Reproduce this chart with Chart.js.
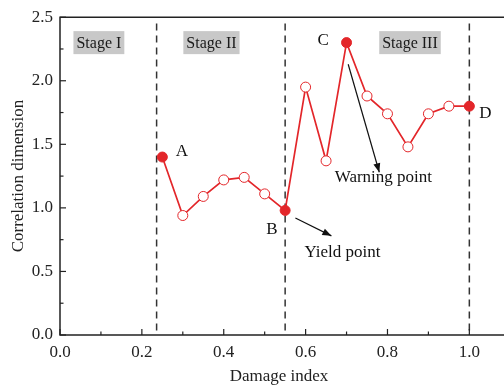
<!DOCTYPE html>
<html>
<head>
<meta charset="utf-8">
<script src="https://cdn.jsdelivr.net/npm/chart.js@4"></script>
<style>
    html, body { margin: 0; padding: 0; background: #fff; overflow: hidden; }
    #wrap { width: 504px; height: 391px; position: relative; }
</style>
</head>
<body>
<div id="wrap"><canvas id="chart"></canvas></div>
<script>
// damage index vs correlation dimension
var damageIndex = [0.25, 0.30, 0.35, 0.40, 0.45, 0.50, 0.55, 0.60, 0.65, 0.70, 0.75, 0.80, 0.85, 0.90, 0.95, 1.00];
var corrDim = [1.40, 0.94, 1.09, 1.22, 1.24, 1.11, 0.98, 1.95, 1.37, 2.30, 1.88, 1.74, 1.48, 1.74, 1.80, 1.80];
var keyPoints = [0, 6, 9, 15]; // A, B, C, D
var xTicks = [0.0, 0.2, 0.4, 0.6, 0.8, 1.0];
var yTicks = [0.0, 0.5, 1.0, 1.5, 2.0, 2.5];
var stageBounds = [0.236, 0.55, 1.0];
var stageNames = ["Stage I", "Stage II", "Stage III"];
var stageCenters = [0.095, 0.37, 0.855];
var pointLabels = ["A", "B", "C", "D"];
var pointLabelPos = [[0.298, 1.445], [0.518, 0.83], [0.643, 2.32], [1.039, 1.74]];
var notes = ["Warning point", "Yield point"];
var notePos = [[0.79, 1.24], [0.69, 0.65]];
var arrows = [[0.704, 2.13, 0.78, 1.28], [0.575, 0.92, 0.663, 0.78]];

var RED = "#e3262a";
var SERIF = "'Liberation Serif', 'DejaVu Serif', serif";

var pts = damageIndex.map(function(x, i) { return {x: x, y: corrDim[i]}; });
var fills = corrDim.map(function(v, i) { return keyPoints.indexOf(i) >= 0 ? RED : "#fff"; });

function arrowHead(ctx, x1, y1, x2, y2) {
    var a = Math.atan2(y2 - y1, x2 - x1);
    var len = 9, w = 3.5;
    ctx.beginPath();
    ctx.moveTo(x2, y2);
    ctx.lineTo(x2 - len * Math.cos(a) + w * Math.sin(a), y2 - len * Math.sin(a) - w * Math.cos(a));
    ctx.lineTo(x2 - len * Math.cos(a) - w * Math.sin(a), y2 - len * Math.sin(a) + w * Math.cos(a));
    ctx.closePath();
    ctx.fill();
}

var decor = {
    id: "decor",
    beforeDatasetsDraw: function(chart) {
        var ctx = chart.ctx, xs = chart.scales.x, ys = chart.scales.y, ca = chart.chartArea;
        ctx.save();
        // stage boxes
        ctx.font = "16px " + SERIF;
        ctx.textAlign = "center";
        ctx.textBaseline = "middle";
        stageNames.forEach(function(name, i) {
            var cx = xs.getPixelForValue(stageCenters[i]);
            var cy = ys.getPixelForValue(2.3);
            var w = ctx.measureText(name).width + 6;
            ctx.fillStyle = "#c8c8c8";
            ctx.fillRect(cx - w / 2, cy - 11.5, w, 23);
            ctx.fillStyle = "#1a1a1a";
            ctx.fillText(name, cx, cy + 1);
        });
        // dashed stage lines
        ctx.strokeStyle = "#333";
        ctx.lineWidth = 1.5;
        ctx.setLineDash([7, 5]);
        stageBounds.forEach(function(b) {
            var px = xs.getPixelForValue(b);
            ctx.beginPath();
            ctx.moveTo(px, ys.getPixelForValue(2.45));
            ctx.lineTo(px, ca.bottom);
            ctx.stroke();
        });
        ctx.setLineDash([]);
        ctx.restore();
    },
    afterDraw: function(chart) {
        var ctx = chart.ctx, xs = chart.scales.x, ys = chart.scales.y, ca = chart.chartArea;
        ctx.save();
        // axis frame
        ctx.strokeStyle = "#222";
        ctx.lineWidth = 1.5;
        ctx.beginPath();
        ctx.moveTo(chart.width, ca.top);
        ctx.lineTo(ca.left, ca.top);
        ctx.lineTo(ca.left, ca.bottom);
        ctx.lineTo(chart.width, ca.bottom);
        ctx.stroke();
        // inward ticks
        ctx.lineWidth = 1.2;
        for (var t = 0; t <= 1.05; t += 0.1) {
            var px = xs.getPixelForValue(t);
            var major = Math.round(t * 10) % 2 == 0;
            ctx.beginPath();
            ctx.moveTo(px, ca.bottom);
            ctx.lineTo(px, ca.bottom - (major ? 6 : 3.5));
            ctx.stroke();
        }
        for (var v = 0; v <= 2.5; v += 0.25) {
            var py = ys.getPixelForValue(v);
            var maj = Math.round(v * 4) % 2 == 0;
            ctx.beginPath();
            ctx.moveTo(ca.left, py);
            ctx.lineTo(ca.left + (maj ? 6 : 3.5), py);
            ctx.stroke();
        }
        // point letters
        ctx.fillStyle = "#111";
        ctx.font = "17px " + SERIF;
        ctx.textAlign = "center";
        ctx.textBaseline = "middle";
        pointLabels.forEach(function(l, i) {
            ctx.fillText(l, xs.getPixelForValue(pointLabelPos[i][0]), ys.getPixelForValue(pointLabelPos[i][1]));
        });
        notes.forEach(function(n, i) {
            ctx.fillText(n, xs.getPixelForValue(notePos[i][0]), ys.getPixelForValue(notePos[i][1]));
        });
        // arrows
        ctx.strokeStyle = "#111";
        ctx.lineWidth = 1.2;
        arrows.forEach(function(a) {
            var x1 = xs.getPixelForValue(a[0]), y1 = ys.getPixelForValue(a[1]);
            var x2 = xs.getPixelForValue(a[2]), y2 = ys.getPixelForValue(a[3]);
            ctx.beginPath();
            ctx.moveTo(x1, y1);
            ctx.lineTo(x2, y2);
            ctx.stroke();
            arrowHead(ctx, x1, y1, x2, y2);
        });
        ctx.restore();
    }
};

new Chart(document.getElementById("chart"), {
    type: "line",
    data: {
        datasets: [{
            data: pts,
            borderColor: RED,
            borderWidth: 1.7,
            pointRadius: 5,
            pointBorderWidth: 1,
            pointBorderColor: RED,
            pointBackgroundColor: fills,
            tension: 0
        }]
    },
    options: {
        responsive: true,
        maintainAspectRatio: false,
        animation: false,
        layout: { padding: { top: 13, right: 0, left: 0, bottom: 0 } },
        plugins: { legend: { display: false }, tooltip: { enabled: false } },
        scales: {
            x: {
                type: "linear",
                min: 0,
                max: 1.07,
                afterBuildTicks: function(s) { s.ticks = xTicks.map(function(v) { return {value: v}; }); },
                afterFit: function(s) { s.height = 56; },
                grid: { display: false, drawTicks: false },
                border: { display: false },
                ticks: {
                    padding: 7,
                    color: "#222",
                    font: { family: SERIF, size: 17 },
                    callback: function(v) { return v.toFixed(1); }
                },
                title: {
                    display: true,
                    text: "Damage index",
                    color: "#222",
                    font: { family: SERIF, size: 17 },
                    padding: { top: 9 }
                }
            },
            y: {
                min: 0,
                max: 2.5,
                afterBuildTicks: function(s) { s.ticks = yTicks.map(function(v) { return {value: v}; }); },
                afterFit: function(s) { s.width = 60; },
                grid: { display: false, drawTicks: false },
                border: { display: false },
                ticks: {
                    padding: 7,
                    color: "#222",
                    font: { family: SERIF, size: 17 },
                    callback: function(v) { return v.toFixed(1); }
                },
                title: {
                    display: true,
                    text: "Correlation dimension",
                    color: "#222",
                    font: { family: SERIF, size: 17 },
                    padding: { top: 8, bottom: 2 }
                }
            }
        }
    },
    plugins: [decor]
});
</script>
</body>
</html>
